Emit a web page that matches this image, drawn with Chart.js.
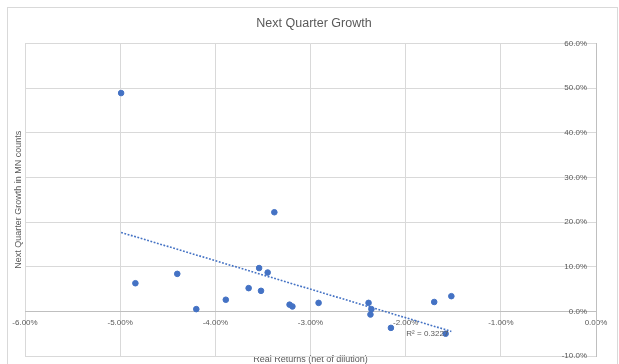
<!DOCTYPE html>
<html>
<head>
<meta charset="utf-8">
<script src="https://cdn.jsdelivr.net/npm/chart.js@4.4.1/dist/chart.umd.min.js"></script>
<style>
  html, body { margin: 0; padding: 0; background: #ffffff; }
  #wrap { width: 619px; height: 364px; position: relative; }
</style>
</head>
<body>
<div id="wrap"><canvas id="chart" width="619" height="364"></canvas></div>
<script>
// Real returns net of dilution (%) and the following quarter's growth in MN counts (%)
const realReturns = [-4.99, -4.84, -4.40, -4.20, -3.89, -3.65, -3.54, -3.52, -3.45, -3.38,
                     -3.22, -3.19, -2.915, -2.39, -2.36, -2.37, -2.155, -1.70, -1.58, -1.52];
const nextQuarterGrowth = [48.9, 6.3, 8.4, 0.5, 2.6, 5.2, 9.7, 4.6, 8.7, 22.2,
                           1.5, 1.1, 1.9, 1.9, 0.5, -0.7, -3.7, 2.1, -5.0, 3.4];

// Axis ranges and tick steps
const xRange = [-6, 0];
const xStep = 1;
const yRange = [-10, 60];
const yStep = 10;

// Texts
const chartTitle = 'Next Quarter Growth';
const xAxisTitle = 'Real Returns (net of dilution)';
const yAxisTitle = 'Next Quarter Growth in MN counts';
const rSquaredText = 'R² = 0.3227';

const TEXT = '#595959';
const GRID = '#d9d9d9';
const AXIS = '#bfbfbf';
const BLUE = '#4472C4';
const FONT = "'Liberation Sans', Arial, sans-serif";

// Ordinary least-squares fit for the linear trendline
function linearFit(xs, ys) {
  const n = xs.length;
  const mx = xs.reduce((a, b) => a + b, 0) / n;
  const my = ys.reduce((a, b) => a + b, 0) / n;
  let sxy = 0, sxx = 0;
  for (let i = 0; i < n; i++) {
    const dx = xs[i] - mx, dy = ys[i] - my;
    sxy += dx * dy; sxx += dx * dx;
  }
  const slope = sxy / sxx;
  return { slope, intercept: my - slope * mx };
}

const fit = linearFit(realReturns, nextQuarterGrowth);
const xMin = Math.min(...realReturns);
const xMax = Math.max(...realReturns);
const trendPoints = [
  { x: xMin, y: fit.slope * xMin + fit.intercept },
  { x: xMax, y: fit.slope * xMax + fit.intercept }
];
const points = realReturns.map((x, i) => ({ x, y: nextQuarterGrowth[i] }));

// Light frame around the whole chart
const framePlugin = {
  id: 'frame',
  beforeDraw(chart) {
    const ctx = chart.ctx;
    ctx.save();
    ctx.strokeStyle = GRID;
    ctx.lineWidth = 1;
    ctx.strokeRect(7.5, 7.5, 610, 400);
    ctx.restore();
  }
};

// R² label placed at the right end of the trendline
const r2Plugin = {
  id: 'r2Label',
  afterDatasetsDraw(chart) {
    const xs = chart.scales.x, ys = chart.scales.y;
    const end = trendPoints[1];
    const px = xs.getPixelForValue(end.x);
    const py = ys.getPixelForValue(end.y);
    const ctx = chart.ctx;
    ctx.save();
    ctx.font = '8px ' + FONT;
    ctx.fillStyle = TEXT;
    ctx.textAlign = 'right';
    ctx.textBaseline = 'middle';
    ctx.fillText(rSquaredText, px - 3, py + 2);
    ctx.restore();
  }
};

new Chart(document.getElementById('chart'), {
  data: {
    datasets: [
      {
        type: 'scatter',
        label: 'Next Quarter Growth',
        data: points,
        backgroundColor: BLUE,
        borderColor: BLUE,
        pointRadius: 2.8,
        pointHoverRadius: 2.8,
        order: 1
      },
      {
        type: 'line',
        label: 'Linear trend',
        data: trendPoints,
        borderColor: BLUE,
        borderWidth: 1.6,
        borderDash: [1.8, 1.6],
        pointRadius: 0,
        fill: false,
        order: 2
      }
    ]
  },
  options: {
    responsive: false,
    animation: false,
    devicePixelRatio: 1,
    layout: { padding: { left: 18, right: 9, top: 8, bottom: 0 } },
    plugins: {
      legend: { display: false },
      tooltip: { enabled: false },
      title: {
        display: true,
        text: chartTitle,
        color: TEXT,
        font: { family: FONT, size: 12.5, weight: 'normal' },
        padding: { top: 8, bottom: 12.5 }
      }
    },
    scales: {
      x: {
        type: 'linear',
        min: xRange[0],
        max: xRange[1],
        position: { y: 0 },
        afterFit(scale) { scale.height = 0; },
        ticks: {
          stepSize: xStep,
          autoSkip: false,
          maxRotation: 0,
          padding: 7,
          color: TEXT,
          font: { family: FONT, size: 8 },
          callback: (v) => Number(v).toFixed(2) + '%'
        },
        grid: { color: GRID, drawTicks: false },
        border: { color: AXIS }
      },
      xTitle: {
        type: 'linear',
        position: 'bottom',
        display: true,
        afterFit(scale) { scale.height = 8; },
        ticks: { display: false },
        grid: { display: false, drawTicks: false },
        border: { display: false },
        title: {
          display: true,
          text: xAxisTitle,
          color: TEXT,
          font: { family: FONT, size: 9 },
          padding: { top: 0, bottom: -1 }
        }
      },
      y: {
        type: 'linear',
        min: yRange[0],
        max: yRange[1],
        position: 'right',
        afterFit(scale) { scale.width = 14; },
        ticks: {
          stepSize: yStep,
          mirror: true,
          crossAlign: 'near',
          padding: -9,
          color: TEXT,
          font: { family: FONT, size: 8 },
          callback: (v) => Number(v).toFixed(1) + '%'
        },
        grid: { color: GRID, drawTicks: false },
        border: { color: AXIS }
      },
      yTitle: {
        type: 'linear',
        position: 'left',
        display: true,
        afterFit(scale) { scale.width = 7; },
        ticks: { display: false },
        grid: { display: false, drawTicks: false },
        border: { display: false },
        title: {
          display: true,
          text: yAxisTitle,
          color: TEXT,
          font: { family: FONT, size: 9 },
          padding: { top: -5, bottom: 0 }
        }
      }
    }
  },
  plugins: [framePlugin, r2Plugin]
});
</script>
</body>
</html>
